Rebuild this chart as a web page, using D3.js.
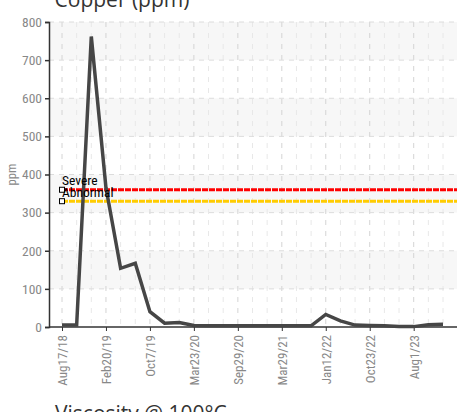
<!DOCTYPE html>
<html><head><meta charset="utf-8">
<script src="https://cdn.jsdelivr.net/npm/d3@7"></script>
<style>
html,body{margin:0;padding:0;background:#fff;overflow:hidden;}
.cond{font-family:"Liberation Sans Narrow","Roboto Condensed","DejaVu Sans Condensed",sans-serif;}
</style></head>
<body>
<svg id="c" width="457" height="412"></svg>
<script>
// data
const values = [5, 5, 762, 365, 154, 167, 40, 10, 12, 4, 3, 3, 3, 3, 3, 3, 3, 3, 33, 16, 5, 4, 3, 1, 1, 6, 7];
const tickLabels = ["Aug17/18","Feb20/19","Oct7/19","Mar23/20","Sep29/20","Mar29/21","Jan12/22","Oct23/22","Aug1/23"];
const tickEvery = 3;
const yTicks = [0,100,200,300,400,500,600,700,800];
const limitNames = ["Severe","Abnormal"];
const limitValues = [360, 330];
const limitColors = ["#ff0000","#ffcc00"];

(function(){
const svg = d3.select("#c");
const mL = 49, mR = 457, mT = 22, mB = 327;
const x = d3.scalePoint().domain(d3.range(values.length)).range([62, 443]);
const y = d3.scaleLinear().domain([0, 800]).range([mB, mT]);

// title
svg.append("text").attr("x", 122).attr("y", 7).attr("text-anchor","middle")
  .attr("font-family","'Open Sans',sans-serif").attr("font-size",21).attr("fill","#333")
  .text("Copper (ppm)");
svg.append("text").attr("x", 55).attr("y", 421)
  .attr("font-family","'Open Sans',sans-serif").attr("font-size",21).attr("fill","#333")
  .text("Viscosity @ 100°C");

// bands
const bands = d3.range(0, 800, 100).filter(v => (v/100) % 2 === 1);
svg.selectAll("rect.band").data(bands).join("rect")
  .attr("x", mL).attr("width", mR - mL)
  .attr("y", d => y(d + 100)).attr("height", d => y(d) - y(d + 100))
  .attr("fill", "#f7f7f7");

// vertical grid
svg.selectAll("line.vg").data(d3.range(values.length)).join("line")
  .attr("x1", d => x(d)).attr("x2", d => x(d)).attr("y1", mT).attr("y2", mB)
  .attr("stroke", d => d % tickEvery === 0 ? "#d4d4d4" : "#e8e8e8")
  .attr("stroke-dasharray", "5,6");
// horizontal grid
svg.selectAll("line.hg").data(yTicks.filter(v => v > 0)).join("line")
  .attr("x1", mL).attr("x2", mR).attr("y1", d => y(d)).attr("y2", d => y(d))
  .attr("stroke", "#dcdcdc").attr("stroke-dasharray", "5,5");

// y axis
const yAxis = svg.append("g").attr("transform", `translate(${mL},0)`)
  .call(d3.axisLeft(y).tickValues(yTicks).tickSize(4).tickPadding(3));
yAxis.select(".domain").attr("stroke", "#333").attr("stroke-width", 1.5);
yAxis.selectAll(".tick line").attr("stroke", "#333").attr("stroke-width", 1.5);
yAxis.selectAll("text").attr("class","cond").attr("font-size", 13.5).attr("fill", "#888");

svg.append("text").attr("class","cond")
  .attr("transform", `translate(16,${(mT+mB)/2}) rotate(-90)`)
  .attr("text-anchor","middle").attr("font-size",12.5).attr("fill","#888").text("ppm");

// x axis
const xAxis = svg.append("g").attr("transform", `translate(0,${mB})`)
  .call(d3.axisBottom(x).tickValues(d3.range(0, values.length, tickEvery))
    .tickFormat(d => tickLabels[d / tickEvery]).tickSize(4).tickPadding(4));
xAxis.select(".domain").attr("d", `M${mL},0H${mR}`).attr("stroke", "#333").attr("stroke-width", 1.5);
xAxis.selectAll(".tick line").attr("stroke", "#333");
xAxis.selectAll("text").attr("class","cond").attr("font-size", 13).attr("fill", "#888")
  .attr("transform", "rotate(-90)").attr("text-anchor", "end")
  .attr("x", -8).attr("y", 0).attr("dy", "0.35em");

// limit lines
limitValues.forEach((v, i) => {
  svg.append("line").attr("x1", x(0)).attr("x2", mR)
    .attr("y1", y(v)).attr("y2", y(v))
    .attr("stroke", limitColors[i]).attr("stroke-width", 3)
    .attr("stroke-dasharray", "6,1");
});

// data line
svg.append("path").datum(values)
  .attr("d", d3.line().x((d, i) => x(i)).y(d => y(d)))
  .attr("fill", "none").attr("stroke", "#464646").attr("stroke-width", 3.5)
  .attr("stroke-linejoin", "miter");

// limit markers and labels
limitValues.forEach((v, i) => {
  svg.append("rect").attr("x", x(0) - 2.5).attr("y", y(v) - 2.5)
    .attr("width", 5).attr("height", 5).attr("fill", "#fff").attr("stroke", "#000").attr("stroke-width", 1);
  svg.append("text").attr("class","cond").attr("x", x(0)).attr("y", y(v) - (i===0?5:4))
    .attr("font-size", 13.5).attr("fill", "#000").text(limitNames[i]);
});
})();
</script>
</body></html>
